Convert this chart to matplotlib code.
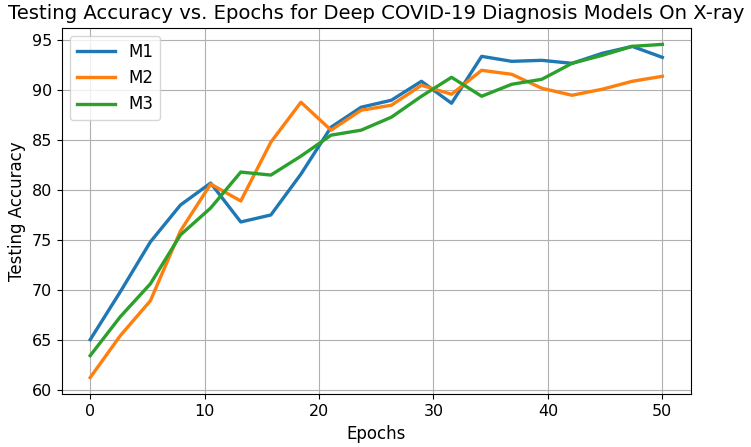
import numpy as np
import matplotlib
matplotlib.use('Agg')
import matplotlib.pyplot as plt

## эпохи (20 точек от 0 до 50)
epochs = [0, 2.63, 5.26, 7.89, 10.53, 13.16, 15.79, 18.42, 21.05, 23.68,
          26.32, 28.95, 31.58, 34.21, 36.84, 39.47, 42.11, 44.74, 47.37, 50]

m1 = [65.0, 69.8, 74.8, 78.5, 80.7, 76.8, 77.5, 81.6, 86.3, 88.3,
      89.0, 90.9, 88.7, 93.4, 92.9, 93.0, 92.7, 93.7, 94.4, 93.3]
m2 = [61.2, 65.4, 68.9, 75.9, 80.6, 78.9, 84.8, 88.8, 86.0, 88.0,
      88.5, 90.5, 89.6, 92.0, 91.6, 90.2, 89.5, 90.1, 90.9, 91.4]
m3 = [63.4, 67.3, 70.6, 75.5, 78.2, 81.8, 81.5, 83.4, 85.5, 86.0,
      87.3, 89.4, 91.3, 89.4, 90.6, 91.1, 92.7, 93.5, 94.4, 94.6]

labels = ['M1', 'M2', 'M3']

fig = plt.figure(figsize=(7.51, 4.47), dpi=100)
ax = fig.add_axes([0.082, 0.118, 0.838, 0.82])

for series, name in zip([m1, m2, m3], labels):
    ax.plot(epochs, series, linewidth=2.4, label=name)

ax.set_title('Testing Accuracy vs. Epochs for Deep COVID-19 Diagnosis Models On X-ray', fontsize=14.1)
ax.set_xlabel('Epochs', fontsize=12)
ax.set_ylabel('Testing Accuracy', fontsize=12)
ax.tick_params(labelsize=11.5)
ax.set_xticks([0, 10, 20, 30, 40, 50])
ax.set_yticks([60, 65, 70, 75, 80, 85, 90, 95])
ax.grid(True)
ax.legend(loc='upper left', fontsize=12, handlelength=2.3)

fig.savefig('out.png', dpi=100)
